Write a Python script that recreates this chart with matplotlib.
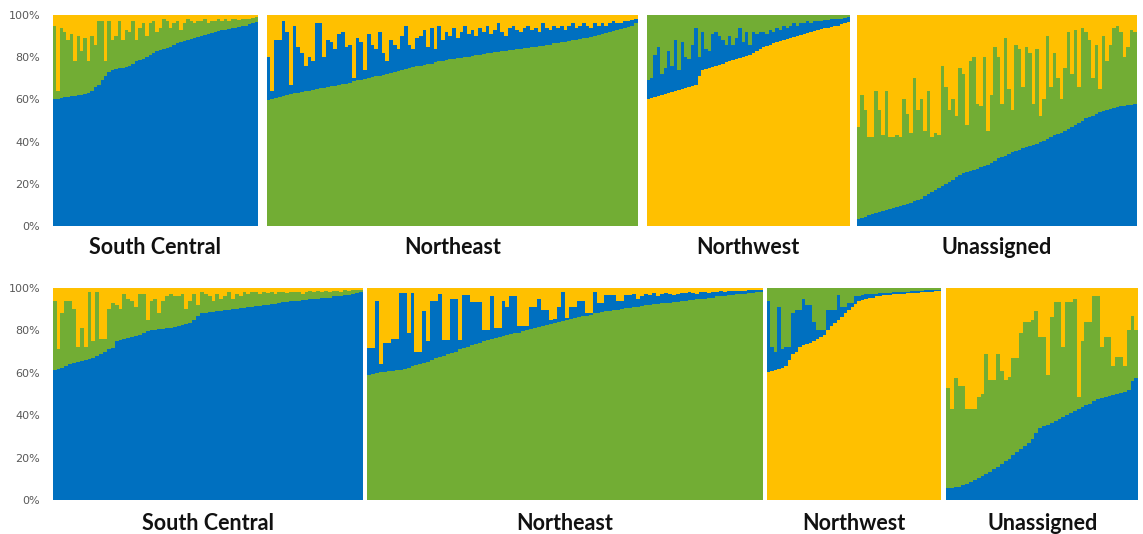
import numpy as np
import matplotlib
matplotlib.use("Agg")
import matplotlib.pyplot as plt

BLUE = "#0070C0"
GREEN = "#72AD34"
YELLOW = "#FFC000"

# Membership per individual (%), lower layer and upper edge of the middle layer.
# --- first run ---
sc1_low = [60, 60, 60.5, 61, 61, 61.5, 61.5, 62, 62, 62.5,
           63, 64, 66, 67, 69, 71, 73, 74, 74.5, 75,
           75, 75.5, 76, 77, 78, 78.5, 79, 80, 81, 82,
           83, 83.5, 84, 84.5, 85, 86, 86.5, 87, 87.5, 88,
           88.5, 89, 89.5, 90, 90.5, 91, 91.5, 92, 92.5, 93,
           93, 93.5, 94, 94, 94.5, 95, 95, 95.5, 96, 96.5]
sc1_mid = [95, 64, 94, 92, 88, 91, 78, 90, 83, 89,
           78, 90, 86, 97, 97, 78, 97, 88, 90, 97,
           88, 93, 92, 97, 88, 94, 96, 90, 96, 97,
           92, 94, 98, 97, 94, 96, 97, 93, 96, 98,
           97, 96, 97, 97, 98, 96, 97, 97, 98, 97,
           98, 97, 98, 98, 97.5, 98, 98, 98, 98.5, 99]

ne1_low = [59.5, 60, 60.5, 61, 61.5, 62, 62.5, 63, 63, 63.5,
           64, 64, 64.5, 65, 65.5, 65.5, 66, 66.5, 66.5, 67,
           67.5, 67.5, 68, 68.5, 69, 69, 69.5, 70, 70.5, 71,
           71, 71.5, 72, 72.5, 73, 73.5, 74, 74.5, 75, 75.5,
           76, 76, 76.5, 77, 77, 77.5, 78, 78, 78.5, 79,
           79, 79.5, 79.5, 80, 80, 80.5, 81, 81, 81.5, 82,
           82, 82.5, 82.5, 83, 83, 83.5, 83.5, 84, 84, 84.5,
           84.5, 85, 85, 85.5, 85.5, 86, 86, 86.5, 86.5, 87,
           87, 87.5, 88, 88, 88.5, 89, 89, 89.5, 90, 90.5,
           91, 91.5, 92, 92.5, 93, 93.5, 94, 94.5, 95, 96]
ne1_mid = [80, 64, 88, 88, 97, 92, 67, 95, 85, 82,
           76, 80, 78, 96, 96, 80, 88, 87, 84, 91,
           92, 85, 86, 70, 89, 87, 74, 91, 86, 84,
           92, 82, 78, 88, 86, 84, 90, 95, 86, 84,
           89, 90, 93, 85, 94, 84, 95, 88, 92, 90,
           94, 89, 92, 95, 91, 93, 90, 94, 92, 95,
           91, 93, 96, 92, 90, 94, 95, 93, 92, 94,
           95, 93, 94, 92, 96, 94, 93, 95, 94, 95,
           93, 95, 96, 94, 95, 96, 95, 94, 96, 95,
           96, 95, 96, 97, 96, 96, 97, 97, 97.5, 98]

nw1_low = [60, 60.5, 61, 61.5, 62, 62.5, 63, 63.5, 64, 64.5,
           65, 65.5, 66, 66.5, 67, 71, 74, 74.5, 75, 75.5,
           76, 76.5, 77, 77.5, 78, 78.5, 79, 79.5, 80, 80.5,
           81, 82, 83, 84, 85, 85.5, 86, 86.5, 87, 87.5,
           88, 88.5, 89, 89.5, 90, 90.5, 91, 91.5, 92, 92.5,
           93, 93.5, 94, 94, 94.5, 95, 95, 95.5, 96, 96.5]
nw1_mid = [69, 70, 81, 85, 72, 75, 83, 76, 88, 74,
           87, 80, 79, 86, 94, 80, 92, 84, 83, 91,
           92, 90, 88, 86, 90, 86, 89, 94, 87, 92,
           86, 92, 91, 92, 92, 91, 93, 92, 94, 93,
           95, 94, 95, 96, 95, 96, 96, 97, 96, 97,
           97, 97, 97.5, 97.5, 98, 98, 98, 98, 98.5, 99]

un1_low = [3.5, 4, 4.5, 5, 5.5, 6, 6.5, 7, 7.5, 8,
           8.5, 9, 9.5, 10, 10.5, 11, 12, 12.5, 13, 14,
           15, 16, 17, 18, 19, 20, 21, 22, 23, 24,
           25, 25.5, 26, 26.5, 27, 28, 28.5, 29, 30, 31,
           32, 32.5, 33, 34, 35, 35.5, 36, 37, 37.5, 38,
           38.5, 39, 40, 40.5, 41, 42, 43, 43.5, 44, 45,
           46, 47, 48, 49, 50, 51, 51.5, 52, 53, 54,
           54.5, 55, 55.5, 56, 56.5, 57, 57, 57.5, 57.5, 58]
un1_mid = [47, 62, 55, 42, 42, 64, 55, 43, 64, 42,
           42, 43, 42, 60, 53, 44, 70, 55, 60, 45,
           64, 42, 44, 43, 76, 66, 55, 60, 52, 75,
           72, 48, 78, 80, 58, 57, 80, 45, 62, 85,
           80, 58, 89, 65, 55, 86, 84, 66, 85, 82,
           58, 84, 52, 60, 90, 66, 82, 70, 60, 75,
           92, 72, 93, 66, 94, 92, 88, 70, 86, 65,
           90, 78, 86, 94, 95, 92, 80, 85, 93, 92]

# --- second run ---
sc2_low = [61.5, 62, 62.5, 63, 64, 64.5, 65, 65.5, 66, 66.5,
           67, 68, 69, 70, 71, 71.5, 75, 75.5, 76, 76.5,
           77, 77.5, 78, 79, 79.5, 80, 80, 80.5, 80.5, 81,
           81, 81.5, 82, 82.5, 83, 83.5, 85, 87, 88, 88,
           88.5, 88.5, 89, 89, 89.5, 89.5, 90, 90, 90.5, 90.5,
           91, 91, 91.5, 91.5, 92, 92, 92.5, 92.5, 93, 93.5,
           93.5, 94, 94, 94, 94.5, 94.5, 95, 95, 95, 95.5,
           95.5, 95.5, 96, 96, 96, 96.5, 96.5, 97, 97.5, 98]
sc2_mid = [94, 71, 88, 94, 94, 90, 72, 81, 72, 98,
           75, 98, 76, 76, 90, 93, 92, 90, 97, 95,
           94, 91, 97, 97, 85, 94, 95, 88, 94, 96,
           97, 96, 96, 97, 90, 94, 97, 92, 98, 97,
           96, 94, 97, 95, 96, 98, 95, 97, 96, 98,
           97, 98, 98, 97, 98, 97.5, 98, 97, 98, 98,
           97.5, 98, 98, 98, 97, 98, 98.5, 98, 98.5, 98,
           98.5, 98, 98.5, 98.5, 98, 99, 98.5, 99, 99, 99]

ne2_low = [59, 59.5, 60, 60.5, 60.5, 61, 61, 61.5, 61.5, 62,
           62.5, 63, 63.5, 64, 64.5, 65, 66, 67, 67.5, 68,
           69, 69.5, 70, 71, 71.5, 72, 73, 73.5, 74, 75,
           75.5, 76, 76.5, 77, 77.5, 78, 78.5, 79, 79, 79.5,
           80, 80.5, 81, 81.5, 82, 82.5, 83, 83.5, 84, 84.5,
           85, 85.5, 86, 86.5, 87, 87, 87.5, 88, 88, 88.5,
           89, 89, 89.5, 89.5, 90, 90.5, 90.5, 91, 91, 91.5,
           92, 92, 92.5, 92.5, 93, 93, 93, 93.5, 93.5, 94,
           94, 94.5, 94.5, 95, 95, 95, 95.5, 95.5, 96, 96,
           96, 96.5, 96.5, 97, 97, 97, 97.5, 97.5, 98, 98]
ne2_mid = [71.5, 71.5, 94, 64, 74, 74, 76, 76, 97.5, 97.5,
           79, 97.5, 70, 70, 89, 75, 94, 94, 97, 75.5,
           75.5, 95, 95, 75.5, 96.5, 96.5, 93.5, 93.5, 93.5, 80,
           80, 96, 81, 81, 94, 91, 96, 96, 82, 82,
           82, 91, 91, 95, 89.5, 89.5, 85, 85.5, 91, 98,
           86, 91, 91, 94, 94, 88, 88, 98, 93, 93,
           96.5, 96.5, 96.5, 94, 94, 96.5, 96.5, 97, 95, 96,
           97, 96.5, 97.5, 96, 97, 97.5, 97, 96.5, 97, 97.5,
           97.5, 98, 97.5, 97, 98, 98, 97.5, 98, 98, 98.5,
           98, 98.5, 98.5, 98.5, 98.5, 98.5, 99, 99, 99, 99]

nw2_low = [60.5, 61, 61.5, 62, 62.5, 63, 66, 69, 70, 72,
           73, 73.5, 74, 75, 76, 77, 78, 80, 82, 83.5,
           85, 86.5, 88, 89.5, 91, 92.5, 94, 94.5, 95, 95.5,
           95.5, 96, 96, 96.5, 96.5, 96.5, 97, 97, 97, 97,
           97.5, 97.5, 97.5, 97.5, 98, 98, 98, 98, 98.5, 98.5]
nw2_mid = [94, 72, 70, 91, 71, 72, 72, 88, 89.5, 89.5,
           95, 92, 92, 84, 80, 80, 80, 89.5, 89.5, 89.5,
           96.5, 91, 91, 93, 93, 96, 96, 96.5, 97, 97,
           97, 97, 97.5, 97.5, 97.5, 97.5, 98, 98, 98, 98,
           98, 98.5, 98.5, 98.5, 98.5, 99, 99, 99, 99, 99]

un2_low = [5.5, 5.5, 6, 6.3, 7, 7.5, 8.5, 9.4, 10.5, 11.5,
           12.5, 13.4, 14.5, 15.5, 17, 18.5, 19.5, 21, 22.5, 24,
           25.5, 27, 29, 31.5, 34, 35, 35.5, 36.5, 37.5, 38,
           39, 40, 41, 42, 43, 44, 45, 45.5, 46.5, 47.5,
           48, 48.5, 49, 49.5, 50, 50.5, 51, 52, 56, 57.5]
un2_mid = [52.7, 43, 57.4, 54, 54, 43, 43, 43, 48.7, 50,
           69, 56.6, 56.6, 69, 61, 56.6, 58, 67, 67, 79,
           84, 84, 85, 89, 77, 77, 59, 86.5, 93.6, 93.6,
           72, 93.6, 93.6, 95, 48.7, 75, 84, 84, 96, 96,
           72, 77, 77, 63, 67.6, 67.6, 63, 80, 87, 80]

labels = ["South Central", "Northeast", "Northwest", "Unassigned"]
layer_colors = [
    (BLUE, GREEN, YELLOW),
    (GREEN, BLUE, YELLOW),
    (YELLOW, BLUE, GREEN),
    (BLUE, GREEN, YELLOW),
]

rows = [
    {"data": [(sc1_low, sc1_mid), (ne1_low, ne1_mid), (nw1_low, nw1_mid), (un1_low, un1_mid)],
     "lefts": [52.7, 266.7, 646.7, 857], "rights": [258, 637.7, 850, 1136.7],
     "top": 15, "bottom": 226, "baseline": 254},
    {"data": [(sc2_low, sc2_mid), (ne2_low, ne2_mid), (nw2_low, nw2_mid), (un2_low, un2_mid)],
     "lefts": [52.7, 367, 767, 946], "rights": [362.7, 762.7, 941, 1138.3],
     "top": 288, "bottom": 500, "baseline": 530},
]

W, H = 1143, 534
fig = plt.figure(figsize=(W / 100, H / 100), dpi=100)


def draw_panel(ax, low, mid, colors):
    low = np.array(low, dtype=float)
    mid = np.array(mid, dtype=float)
    x = np.arange(len(low))
    c0, c1, c2 = colors
    kw = dict(width=1.0, linewidth=0, antialiased=False)
    ax.bar(x, low, color=c0, **kw)
    ax.bar(x, mid - low, bottom=low, color=c1, **kw)
    ax.bar(x, 100 - mid, bottom=mid, color=c2, **kw)
    ax.set_xlim(-0.5, len(low) - 0.5)
    ax.set_ylim(0, 100)
    for s in ax.spines.values():
        s.set_visible(False)
    ax.set_xticks([])


for row in rows:
    for i, (low, mid) in enumerate(row["data"]):
        l, r = row["lefts"][i], row["rights"][i]
        ax = fig.add_axes([l / W, 1 - row["bottom"] / H,
                           (r - l) / W, (row["bottom"] - row["top"]) / H])
        draw_panel(ax, low, mid, layer_colors[i])
        if i == 0:
            ax.set_yticks([0, 20, 40, 60, 80, 100])
            ax.set_yticklabels([f"{v}%" for v in [0, 20, 40, 60, 80, 100]],
                               fontsize=8, color="#595959")
            ax.tick_params(axis="y", length=0, pad=9)
        else:
            ax.set_yticks([])
        fig.text((l + r) / 2 / W, 1 - row["baseline"] / H, labels[i],
                 ha="center", va="baseline", fontsize=15.5,
                 fontweight="bold", family="Lato", color="#111111")

fig.savefig("out.png", dpi=100)
